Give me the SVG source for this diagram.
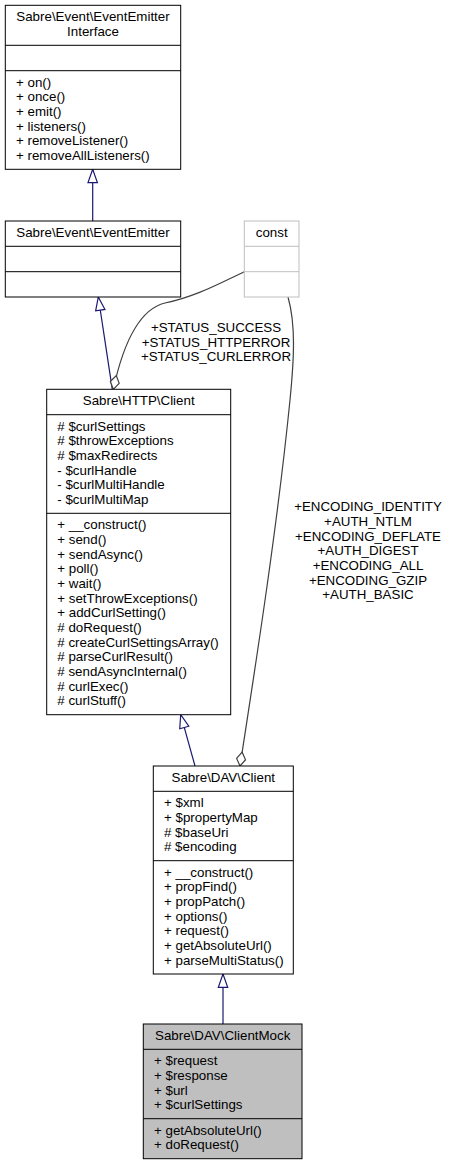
<svg xmlns="http://www.w3.org/2000/svg" width="450" height="1165" viewBox="0 0 450 1165">
<style>
text{font-family:"Liberation Sans",Arial,Helvetica,sans-serif;font-size:13.33px;fill:#000}
.c{text-anchor:middle}
.box{fill:#fff;stroke:#000;stroke-width:1}
.sep{stroke:#000;stroke-width:1}
.gbox{fill:#fff;stroke:#bfbfbf;stroke-width:1}
.gsep{stroke:#bfbfbf;stroke-width:1}
.cur{fill:#bfbfbf;stroke:#000;stroke-width:1}
.inh{fill:none;stroke:#191970;stroke-width:1.2}
.use{fill:none;stroke:#404040;stroke-width:1.2}
</style>
<defs>
<marker id="tri" markerUnits="userSpaceOnUse" orient="auto" refX="0" refY="0" markerWidth="20" markerHeight="20" overflow="visible">
<path d="M0,0 L-13.3,-4.7 L-13.3,4.7 Z" fill="#fff" stroke="#191970" stroke-width="1.2"/>
</marker>
<marker id="dia" markerUnits="userSpaceOnUse" orient="auto" refX="0" refY="0" markerWidth="20" markerHeight="20" overflow="visible">
<path d="M0,0 L-7,-4.5 L-14,0 L-7,4.5 Z" fill="#fff" stroke="#404040" stroke-width="1.2"/>
</marker>
</defs>

<g id="connectors">
<path class="inh" d="M92.7,221 L92.7,169.3" marker-end="url(#tri)"/>
<path class="inh" d="M112.3,389.3 L98.3,297" marker-end="url(#tri)"/>
<path class="inh" d="M195,766 L180.7,714.7" marker-end="url(#tri)"/>
<path class="inh" d="M223,1024 L223,974" marker-end="url(#tri)"/>
<path class="use" d="M244.3,271.7 C220,283 195,297 165,303 C140,309 124,340 113.3,389.3" marker-end="url(#dia)"/>
<path class="use" d="M288,297 C296,325 294,360 290,400 C278,520 258,650 240,766" marker-end="url(#dia)"/>
<text class="c" x="216" y="332">+STATUS_SUCCESS</text>
<text class="c" x="216" y="346.7">+STATUS_HTTPERROR</text>
<text class="c" x="216" y="361.3">+STATUS_CURLERROR</text>
<text class="c" x="368" y="511.3">+ENCODING_IDENTITY</text>
<text class="c" x="368" y="526">+AUTH_NTLM</text>
<text class="c" x="368" y="540.7">+ENCODING_DEFLATE</text>
<text class="c" x="368" y="555.3">+AUTH_DIGEST</text>
<text class="c" x="368" y="570">+ENCODING_ALL</text>
<text class="c" x="368" y="584.7">+ENCODING_GZIP</text>
<text class="c" x="368" y="599.3">+AUTH_BASIC</text>
</g>

<g id="EventEmitterInterface">
<rect class="box" x="5.3" y="5.3" width="175.4" height="164"/>
<text class="c" x="93" y="21.3">Sabre\Event\EventEmitter</text>
<text class="c" x="93" y="36">Interface</text>
<line class="sep" x1="5.3" y1="45.3" x2="180.7" y2="45.3"/>
<line class="sep" x1="5.3" y1="70.7" x2="180.7" y2="70.7"/>
<text x="16" y="86.7">+ on()</text>
<text x="16" y="101.3">+ once()</text>
<text x="16" y="116">+ emit()</text>
<text x="16" y="130.7">+ listeners()</text>
<text x="16" y="145.3">+ removeListener()</text>
<text x="16" y="160">+ removeAllListeners()</text>
</g>

<g id="EventEmitter">
<rect class="box" x="5.3" y="221" width="175.4" height="76"/>
<text class="c" x="93" y="237">Sabre\Event\EventEmitter</text>
<line class="sep" x1="5.3" y1="246.3" x2="180.7" y2="246.3"/>
<line class="sep" x1="5.3" y1="271.7" x2="180.7" y2="271.7"/>
</g>

<g id="const">
<rect class="gbox" x="244.3" y="221" width="54.7" height="76"/>
<text class="c" x="271.7" y="237">const</text>
<line class="gsep" x1="244.3" y1="246.3" x2="299" y2="246.3"/>
<line class="gsep" x1="244.3" y1="271.7" x2="299" y2="271.7"/>
</g>

<g id="HTTPClient">
<rect class="box" x="46.7" y="389.3" width="184" height="325.4"/>
<text class="c" x="138.7" y="405.3">Sabre\HTTP\Client</text>
<line class="sep" x1="46.7" y1="414.7" x2="230.7" y2="414.7"/>
<text x="57.3" y="430.7"># $curlSettings</text>
<text x="57.3" y="445.3"># $throwExceptions</text>
<text x="57.3" y="460"># $maxRedirects</text>
<text x="57.3" y="474.7">- $curlHandle</text>
<text x="57.3" y="489.3">- $curlMultiHandle</text>
<text x="57.3" y="504">- $curlMultiMap</text>
<line class="sep" x1="46.7" y1="513.3" x2="230.7" y2="513.3"/>
<text x="57.3" y="529.3">+ __construct()</text>
<text x="57.3" y="544">+ send()</text>
<text x="57.3" y="558.7">+ sendAsync()</text>
<text x="57.3" y="573.3">+ poll()</text>
<text x="57.3" y="588">+ wait()</text>
<text x="57.3" y="602.7">+ setThrowExceptions()</text>
<text x="57.3" y="617.3">+ addCurlSetting()</text>
<text x="57.3" y="632"># doRequest()</text>
<text x="57.3" y="646.7"># createCurlSettingsArray()</text>
<text x="57.3" y="661.3"># parseCurlResult()</text>
<text x="57.3" y="676"># sendAsyncInternal()</text>
<text x="57.3" y="690.7"># curlExec()</text>
<text x="57.3" y="705.3"># curlStuff()</text>
</g>

<g id="DAVClient">
<rect class="box" x="153.3" y="766" width="140" height="208"/>
<text class="c" x="223.3" y="782">Sabre\DAV\Client</text>
<line class="sep" x1="153.3" y1="791.3" x2="293.3" y2="791.3"/>
<text x="164" y="807.3">+ $xml</text>
<text x="164" y="822">+ $propertyMap</text>
<text x="164" y="836.7"># $baseUri</text>
<text x="164" y="851.3"># $encoding</text>
<line class="sep" x1="153.3" y1="860.7" x2="293.3" y2="860.7"/>
<text x="164" y="876.7">+ __construct()</text>
<text x="164" y="891.3">+ propFind()</text>
<text x="164" y="906">+ propPatch()</text>
<text x="164" y="920.7">+ options()</text>
<text x="164" y="935.3">+ request()</text>
<text x="164" y="950">+ getAbsoluteUrl()</text>
<text x="164" y="964.7">+ parseMultiStatus()</text>
</g>

<g id="ClientMock">
<rect class="cur" x="143.3" y="1024" width="158.7" height="134.7"/>
<text class="c" x="222.7" y="1040">Sabre\DAV\ClientMock</text>
<line class="sep" x1="143.3" y1="1049.3" x2="302" y2="1049.3"/>
<text x="154" y="1065.3">+ $request</text>
<text x="154" y="1080">+ $response</text>
<text x="154" y="1094.7">+ $url</text>
<text x="154" y="1109.3">+ $curlSettings</text>
<line class="sep" x1="143.3" y1="1118.7" x2="302" y2="1118.7"/>
<text x="154" y="1134.7">+ getAbsoluteUrl()</text>
<text x="154" y="1149.3">+ doRequest()</text>
</g>
</svg>
